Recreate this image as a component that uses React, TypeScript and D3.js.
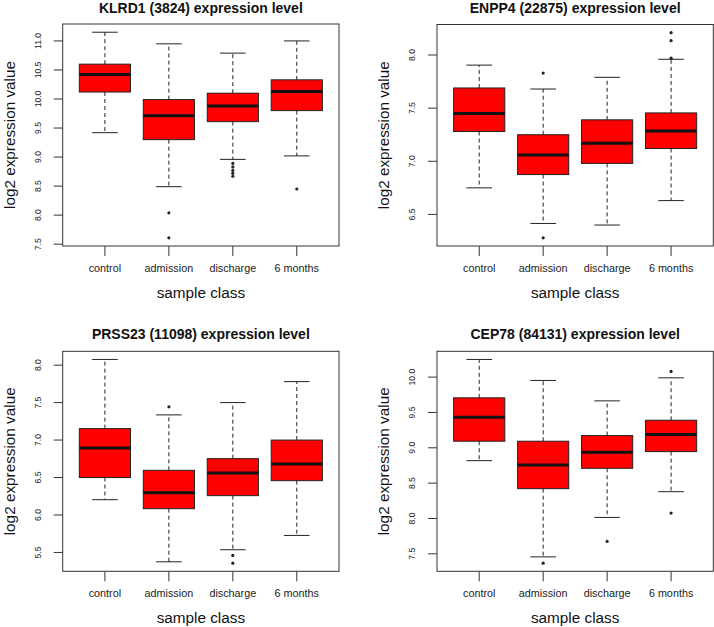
import React from 'react';
import * as d3 from 'd3';

// sample classes on the x axis
const classes = ['control', 'admission', 'discharge', '6 months'];

// box stats per class: [lower whisker, Q1, median, Q3, upper whisker]
const klrd1Stats = [
  [9.42, 10.12, 10.42, 10.6, 11.15],
  [8.49, 9.3, 9.71, 9.99, 10.95],
  [8.96, 9.61, 9.88, 10.1, 10.79],
  [9.02, 9.8, 10.13, 10.33, 11.0],
];
const klrd1Outliers = [[], [8.04, 7.61], [8.89, 8.83, 8.77, 8.72, 8.67], [8.45]];
const klrd1Ticks = [7.5, 8.0, 8.5, 9.0, 9.5, 10.0, 10.5, 11.0];

const enpp4Stats = [
  [6.75, 7.28, 7.45, 7.69, 7.905],
  [6.415, 6.875, 7.06, 7.25, 7.68],
  [6.4, 6.98, 7.17, 7.39, 7.79],
  [6.63, 7.12, 7.285, 7.455, 7.96],
];
const enpp4Outliers = [[], [7.83, 6.28], [], [8.21, 8.135, 7.97]];
const enpp4Ticks = [6.5, 7.0, 7.5, 8.0];

const prss23Stats = [
  [6.204, 6.5, 6.895, 7.153, 8.076],
  [5.375, 6.084, 6.298, 6.596, 7.336],
  [5.536, 6.258, 6.56, 6.752, 7.5],
  [5.727, 6.458, 6.68, 7.0, 7.78],
];
const prss23Outliers = [[], [7.443], [5.46, 5.357], []];
const prss23Ticks = [5.5, 6.0, 6.5, 7.0, 7.5, 8.0];

const cep78Stats = [
  [8.818, 9.093, 9.433, 9.707, 10.25],
  [7.457, 8.422, 8.757, 9.093, 9.953],
  [8.015, 8.71, 8.937, 9.173, 9.664],
  [8.379, 8.946, 9.187, 9.39, 9.99],
];
const cep78Outliers = [[], [7.368], [7.675], [10.08, 8.077]];
const cep78Ticks = [7.5, 8.0, 8.5, 9.0, 9.5, 10.0];

const panels = [
  { title: 'KLRD1 (3824) expression level', stats: klrd1Stats, outliers: klrd1Outliers, ticks: klrd1Ticks, left: 62.7, top: 24, bottom: 246, titleY: 13 },
  { title: 'ENPP4 (22875) expression level', stats: enpp4Stats, outliers: enpp4Outliers, ticks: enpp4Ticks, left: 437, top: 24.5, bottom: 246, titleY: 13 },
  { title: 'PRSS23 (11098) expression level', stats: prss23Stats, outliers: prss23Outliers, ticks: prss23Ticks, left: 62.7, top: 351.3, bottom: 571.3, titleY: 339 },
  { title: 'CEP78 (84131) expression level', stats: cep78Stats, outliers: cep78Outliers, ticks: cep78Ticks, left: 437, top: 351.3, bottom: 571.3, titleY: 339 },
];

const plotWidth = 276.3;
const font = 'Liberation Sans, Arial, Helvetica, sans-serif';
const frame = '#333';

function BoxPanel({ p }) {
  const right = p.left + plotWidth;
  const all = p.stats.flat().concat(p.outliers.flat());
  const lo = d3.min(all);
  const hi = d3.max(all);
  const pad = (hi - lo) * 0.04;

  const x = d3.scaleLinear().domain([0.34, 4.66]).range([p.left, right]);
  const y = d3.scaleLinear().domain([lo - pad, hi + pad]).range([p.bottom, p.top]);
  const unit = x(1) - x(0);
  const boxHalf = unit * 0.4;
  const capHalf = unit * 0.2;
  const cx = (p.left + right) / 2;
  const cy = (p.top + p.bottom) / 2;

  return (
    <g>
      <text x={cx} y={p.titleY} textAnchor="middle" fontFamily={font} fontWeight="bold" fontSize={14} fill="#111">
        {p.title}
      </text>

      {/* boxes */}
      {p.stats.map((s, i) => {
        const bx = x(i + 1);
        const [wl, q1, med, q3, wu] = s;
        return (
          <g key={i}>
            <line x1={bx} x2={bx} y1={y(q3)} y2={y(wu)} stroke="#222" strokeDasharray="4,3" />
            <line x1={bx} x2={bx} y1={y(q1)} y2={y(wl)} stroke="#222" strokeDasharray="4,3" />
            <line x1={bx - capHalf} x2={bx + capHalf} y1={y(wu)} y2={y(wu)} stroke="#222" />
            <line x1={bx - capHalf} x2={bx + capHalf} y1={y(wl)} y2={y(wl)} stroke="#222" />
            <rect x={bx - boxHalf} y={y(q3)} width={boxHalf * 2} height={y(q1) - y(q3)} fill="#ff0000" stroke="#222" />
            <line x1={bx - boxHalf} x2={bx + boxHalf} y1={y(med)} y2={y(med)} stroke="#111" strokeWidth={3} />
            {p.outliers[i].map((o, j) => (
              <circle key={j} cx={bx} cy={y(o)} r={1.6} fill="#222" />
            ))}
          </g>
        );
      })}

      {/* frame */}
      <rect x={p.left} y={p.top} width={plotWidth} height={p.bottom - p.top} fill="none" stroke={frame} />

      {/* y axis */}
      {p.ticks.map((t) => (
        <g key={t}>
          <line x1={p.left - 9} x2={p.left} y1={y(t)} y2={y(t)} stroke={frame} />
          <text
            transform={`translate(${p.left - 25},${y(t)}) rotate(-90)`}
            textAnchor="middle"
            dy="0.35em"
            fontFamily={font}
            fontSize={8.6}
            fill="#222"
          >
            {t.toFixed(1)}
          </text>
        </g>
      ))}

      {/* x axis */}
      {classes.map((c, i) => (
        <g key={c}>
          <line x1={x(i + 1)} x2={x(i + 1)} y1={p.bottom} y2={p.bottom + 10} stroke={frame} />
          <text x={x(i + 1)} y={p.bottom + 26} textAnchor="middle" fontFamily={font} fontSize={10.8} fill="#222">
            {c}
          </text>
        </g>
      ))}

      <text x={cx} y={p.bottom + 52} textAnchor="middle" fontFamily={font} fontSize={15.3} fill="#111">
        sample class
      </text>
      <text
        transform={`translate(${p.left - 53},${cy}) rotate(-90)`}
        textAnchor="middle"
        dy="0.35em"
        fontFamily={font}
        fontSize={15.3}
        fill="#111"
      >
        log2 expression value
      </text>
    </g>
  );
}

export default function App() {
  return (
    <svg width={714} height={627} style={{ position: 'absolute', left: 0, top: 0, background: '#fff' }}>
      {panels.map((p, i) => (
        <BoxPanel key={i} p={p} />
      ))}
    </svg>
  );
}
